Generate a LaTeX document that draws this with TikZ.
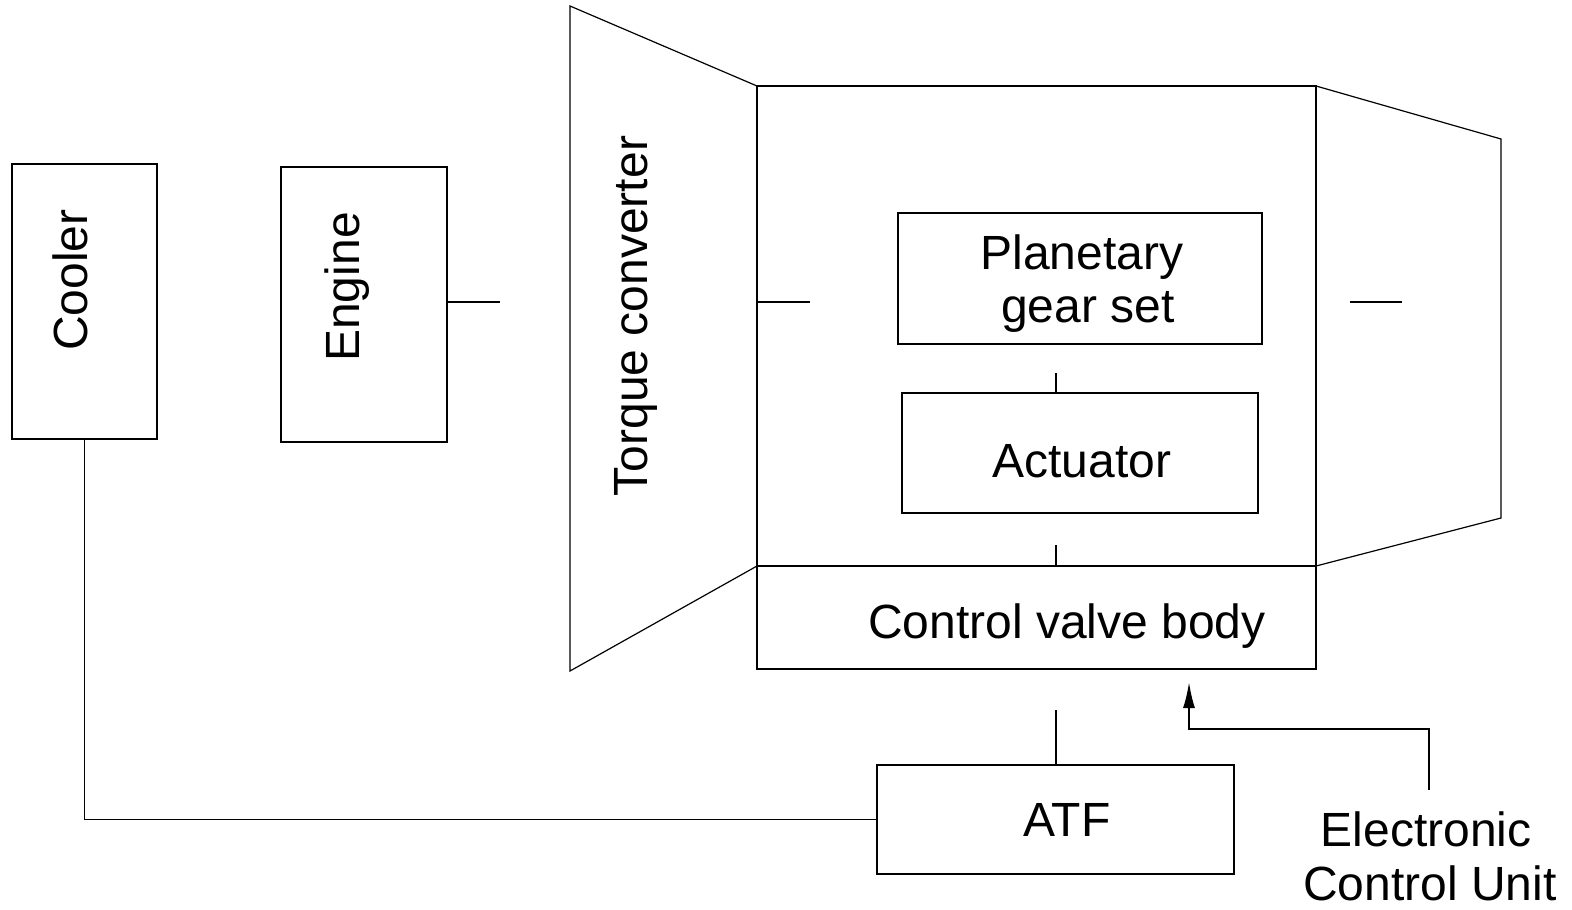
\documentclass[tikz,border=0pt]{standalone}
\usepackage{fontspec}
\setmainfont{Liberation Sans}
\usetikzlibrary{arrows.meta}
\begin{document}
\begin{tikzpicture}[x=0.5pt,y=-0.5pt,
  blk/.style={draw, line width=0.6pt, inner sep=0pt, outer sep=0pt},
  txt/.style={inner sep=0pt, outer sep=0pt, font=\fontsize{24}{27.5}\selectfont},
  wire/.style={line width=0.6pt},
  sig/.style={line width=1pt, -{Latex[length=13pt,width=6pt]}}]
\useasboundingbox (0,0) rectangle (1572,909);
% boxes
\node[blk, minimum width=72.5pt, minimum height=137.5pt] (cooler) at (84.5,301.5) {};
\node[blk, minimum width=83pt, minimum height=137.5pt] (engine) at (364,304.5) {};
\node[blk, minimum width=279.5pt, minimum height=240pt] (main) at (1036.5,326) {};
\node[blk, minimum width=279.5pt, minimum height=51.5pt] (cvb) at (1036.5,617.5) {};
\node[blk, minimum width=182pt, minimum height=65.5pt] (planet) at (1080,278.5) {};
\node[blk, minimum width=178pt, minimum height=60pt] (act) at (1080,453) {};
\node[blk, minimum width=178.5pt, minimum height=54.5pt] (atf) at (1055.5,819.5) {};
% trapezoids
\coordinate (tc1) at (570,6);
\coordinate (tc2) at (570,671);
\draw[wire] (tc1) -- (main.north west) -- (main.south west) -- (tc2) -- cycle;
\coordinate (ot1) at (1501,139);
\coordinate (ot2) at (1501,518);
\draw[wire] (main.north east) -- (ot1) -- (ot2) -- (main.south east);
% texts
\node[txt, rotate=90] (tcl) at (636,316) {Torque converter};
\node[txt, rotate=90] (coolerl) at (70,280) {Cooler};
\node[txt, rotate=90] (enginel) at (347,287) {Engine};
\node[txt] (planetl1) at (1082,257) {Planetary};
\node[txt] (planetl2) at (1088,312) {gear set};
\node[txt] (actl) at (1082,461) {Actuator};
\node[txt] (cvbl) at (1067,626) {Control valve body};
\node[txt] (atfl) at (1067,820) {ATF};
\node[txt] (ecu1) at (1426,829) {Electronic};
\node[txt] (ecu2) at (1430,883) {Control Unit};
% stubs
\coordinate (s1) at (500,302);
\draw[wire] (engine.east |- s1) -- (s1);
\coordinate (s2) at (810,302);
\draw[wire] (main.west |- s2) -- (s2);
\coordinate (s3a) at (1350,302);
\coordinate (s3b) at (1402,302);
\draw[wire] (s3a) -- (s3b);
\coordinate (s4) at (1056,373);
\draw[wire] (s4) -- (act.north -| s4);
\coordinate (s5) at (1056,545);
\draw[wire] (s5) -- (main.south -| s5);
\coordinate (s6) at (1056,710);
\draw[wire] (s6) -- (atf.north -| s6);
% cooler line
\draw[wire] (cooler.south) |- (atf.west);
% ECU signal
\coordinate (e0) at (1429,790);
\coordinate (e1) at (1189,729);
\coordinate (e2) at (1189,682);
\draw[sig] (e0) |- (e1) -- (e2);
\end{tikzpicture}
\end{document}
